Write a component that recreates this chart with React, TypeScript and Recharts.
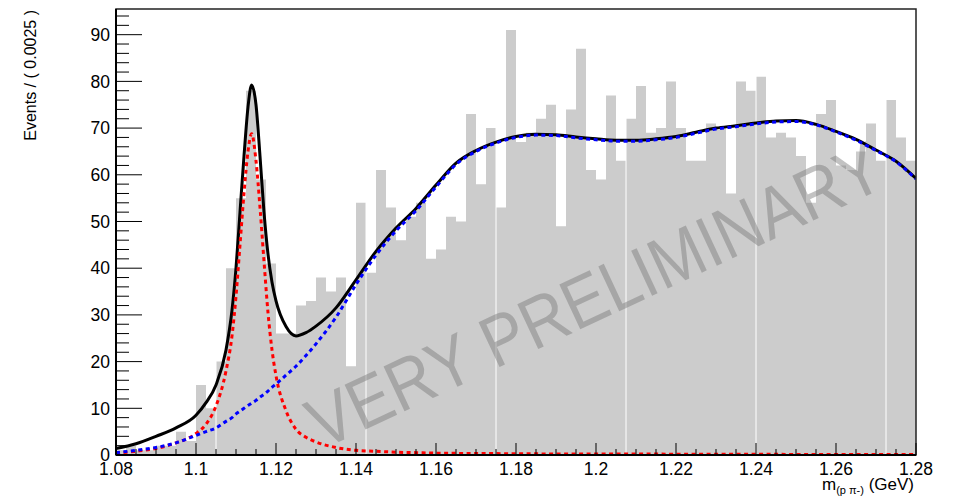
import React from 'react';
import {
  ComposedChart,
  Area,
  Line,
  XAxis,
  YAxis,
  ReferenceArea,
  ReferenceLine,
  ReferenceDot,
  Label,
} from 'recharts';

// histogram: 80 bins of 0.0025 GeV starting at 1.08
const binStart = 1.08;
const binWidth = 0.0025;
const binCounts = [
  1, 2, 1, 1, 2, 2, 5, 3, 15, 10,
  20, 40, 55, 78, 59, 41, 26, 26, 32, 33,
  38, 35, 38, 19, 54, 39, 61, 53, 46, 51,
  54, 42, 44, 51, 50, 73, 58, 70, 53, 91,
  67, 69, 72, 75, 49, 74, 87, 61, 59, 77,
  63, 72, 79, 69, 70, 80, 70, 63, 63, 71,
  70, 56, 80, 78, 81, 68, 69, 68, 64, 54,
  73, 76, 62, 61, 65, 71, 63, 76, 68, 63,
];

// thin white seams visible inside the filled histogram
const seamMasses = [1.105, 1.1425, 1.175, 1.2075, 1.24, 1.2725];

// fit curves
const fitMass = [
  1.08, 1.085, 1.09, 1.095, 1.1, 1.1025, 1.105, 1.1075, 1.109, 1.11,
  1.111, 1.112, 1.113, 1.1139, 1.115, 1.116, 1.117, 1.118, 1.119, 1.12,
  1.1225, 1.125, 1.1275, 1.13, 1.135, 1.14, 1.145, 1.15, 1.155, 1.16,
  1.165, 1.17, 1.175, 1.18, 1.185, 1.19, 1.195, 1.2, 1.205, 1.21,
  1.215, 1.22, 1.225, 1.23, 1.235, 1.24, 1.245, 1.25, 1.255, 1.26,
  1.265, 1.27, 1.275, 1.28,
];
const totalFit = [
  1.4, 2.4, 4.0, 5.8, 8.5, 11.2, 15.0, 22.5, 31, 40,
  52, 64, 74.5, 79.2, 75, 64, 52, 43, 37, 33,
  27.5, 25.5, 26.2, 27.6, 31.5, 37.5, 43.6, 48.6, 52.8, 57.8,
  62.5, 65.2, 67.0, 68.2, 68.7, 68.6, 68.1, 67.7, 67.4, 67.4,
  67.7, 68.2, 69.1, 70.0, 70.5, 71.1, 71.5, 71.6, 70.8, 69.3,
  67.6, 65.3, 62.9, 59.2,
];
const signalFit = [
  0.4, 0.8, 1.4, 2.6, 4.6, 6.6, 10.5, 18, 25.5, 34,
  45, 56, 65, 68.8, 63, 53, 41.5, 30.5, 22.5, 17,
  9.5, 5.5, 3.8, 2.8, 1.6, 1.0, 0.8, 0.6, 0.5, 0.4,
  0.35, 0.3, 0.3, 0.25, 0.25, 0.2, 0.2, 0.2, 0.2, 0.2,
  0.2, 0.15, 0.15, 0.15, 0.15, 0.15, 0.15, 0.1, 0.1, 0.1,
  0.1, 0.1, 0.1, 0.1,
];
const backgroundFit = [
  0.5, 1.0, 1.6, 2.6, 4.2, 5.0, 5.8, 7.2, 8.0, 8.8,
  9.4, 10.0, 10.6, 11.1, 11.7, 12.4, 13.0, 13.7, 14.5, 15.2,
  17.1, 19.0, 21.3, 23.8, 29.5, 36.5, 42.8, 48.0, 52.3, 57.4,
  62.2, 65.0, 66.8, 68.0, 68.5, 68.4, 67.9, 67.5, 67.2, 67.2,
  67.5, 68.0, 68.9, 69.8, 70.3, 70.9, 71.3, 71.4, 70.7, 69.2,
  67.4, 65.2, 62.8, 59.1,
];

const xMajorTicks = [1.08, 1.1, 1.12, 1.14, 1.16, 1.18, 1.2, 1.22, 1.24, 1.26, 1.28];
const yMajorTicks = [0, 10, 20, 30, 40, 50, 60, 70, 80, 90];

const X_MIN = 1.08;
const X_MAX = 1.28;
const Y_MAX = 95.5;
const FONT = '"Liberation Sans", Arial, Helvetica, sans-serif';

// minor ticks every 0.005 on x, every 2 on y
const xTicks: number[] = [];
for (let k = 1080; k <= 1280; k += 5) xTicks.push(k / 1000);
const yTicks: number[] = [];
for (let k = 0; k <= 94; k += 2) yTicks.push(k);

const histData = binCounts.map((c, i) => ({
  m: Math.round((binStart + i * binWidth) * 10000) / 10000,
  count: c,
}));
histData.push({ m: X_MAX, count: binCounts[binCounts.length - 1] });

const fitData = fitMass.map((m, i) => ({
  m,
  total: totalFit[i],
  signal: signalFit[i],
  background: backgroundFit[i],
}));

const XTick = (props: any) => {
  const { x, y, payload } = props;
  const v = payload.value as number;
  const major = xMajorTicks.some((t) => Math.abs(t - v) < 1e-6);
  return (
    <g>
      <line x1={x} y1={y} x2={x} y2={y - (major ? 12 : 6)} stroke="#000" strokeWidth={1} />
      {major && (
        <text x={x} y={y + 20} textAnchor="middle" fontSize={17.5} fontFamily={FONT} fill="#000">
          {String(parseFloat(v.toFixed(2)))}
        </text>
      )}
    </g>
  );
};

const YTick = (props: any) => {
  const { x, y, payload } = props;
  const v = payload.value as number;
  const major = yMajorTicks.includes(v);
  return (
    <g>
      <line x1={x} y1={y} x2={x + (major ? 26 : 13)} y2={y} stroke="#000" strokeWidth={1} />
      {major && (
        <text x={x - 6} y={y} dy="0.36em" textAnchor="end" fontSize={17.5} fontFamily={FONT} fill="#000">
          {v}
        </text>
      )}
    </g>
  );
};

const Watermark = (props: any) => {
  const { cx, cy } = props;
  return (
    <text
      x={cx}
      y={cy}
      transform={`rotate(-25 ${cx} ${cy})`}
      textAnchor="middle"
      fontSize={72}
      fontFamily={FONT}
      textLength={625}
      lengthAdjust="spacingAndGlyphs"
      fill="#777"
      fillOpacity={0.45}
    >
      VERY PRELIMINARY
    </text>
  );
};

export default function App() {
  return (
    <div style={{ position: 'absolute', left: 0, top: 0, width: 955, height: 500, background: '#fff' }}>
      <ComposedChart
        width={955}
        height={500}
        data={fitData}
        margin={{ top: 9, right: 39, bottom: 0, left: 0 }}
      >
        <XAxis
          dataKey="m"
          type="number"
          domain={[X_MIN, X_MAX]}
          allowDataOverflow
          ticks={xTicks}
          interval={0}
          height={45}
          tickSize={0}
          tickMargin={0}
          tickLine={false}
          axisLine={{ stroke: '#000', strokeWidth: 2 }}
          tick={XTick}
        >
          <Label
            content={() => (
              <text x={914} y={490} textAnchor="end" fontFamily={FONT} fontSize={17} fill="#000">
                m
                <tspan fontSize={11} dy={4}>(p π-)</tspan>
                <tspan dy={-4}> (GeV)</tspan>
              </text>
            )}
          />
        </XAxis>
        <YAxis
          type="number"
          domain={[0, Y_MAX]}
          allowDataOverflow
          ticks={yTicks}
          interval={0}
          width={116}
          tickSize={0}
          tickMargin={0}
          tickLine={false}
          axisLine={{ stroke: '#000', strokeWidth: 2 }}
          tick={YTick}
        >
          <Label
            content={() => (
              <text
                x={36}
                y={10}
                transform="rotate(-90 36 10)"
                textAnchor="end"
                fontFamily={FONT}
                fontSize={16}
                fill="#000"
              >
                Events / ( 0.0025 )
              </text>
            )}
          />
        </YAxis>

        <Area
          data={histData}
          dataKey="count"
          type="stepAfter"
          fill="#cccccc"
          fillOpacity={1}
          stroke="none"
          isAnimationActive={false}
        />
        {seamMasses.map((m) => (
          <ReferenceLine key={m} x={m} stroke="#ffffff" strokeWidth={1} zIndex={120} />
        ))}
        <ReferenceDot x={1.2023} y={29.4} r={0} ifOverflow="visible" shape={Watermark} zIndex={150} />

        <Line
          dataKey="total"
          type="monotone"
          stroke="#000000"
          strokeWidth={3}
          dot={false}
          isAnimationActive={false}
        />
        <Line
          dataKey="signal"
          type="monotone"
          stroke="#ff0000"
          strokeWidth={3}
          strokeDasharray="4 3.5"
          dot={false}
          isAnimationActive={false}
        />
        <Line
          dataKey="background"
          type="monotone"
          stroke="#0000ff"
          strokeWidth={3}
          strokeDasharray="4 3.5"
          dot={false}
          isAnimationActive={false}
        />

        <ReferenceArea
          x1={X_MIN}
          x2={X_MAX}
          y1={0}
          y2={Y_MAX}
          fill="none"
          stroke="#222"
          strokeWidth={1.5}
          zIndex={450}
        />
      </ComposedChart>
    </div>
  );
}
